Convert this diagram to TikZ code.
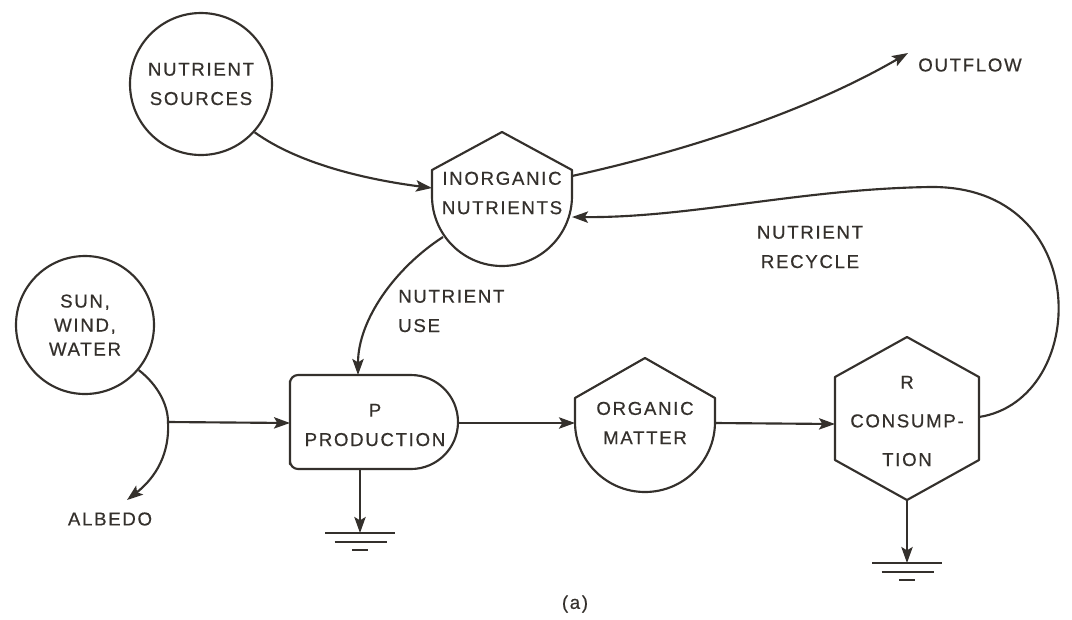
\documentclass[tikz,border=0pt]{standalone}
\usepackage{fontspec}
\setmainfont{Liberation Sans}[LetterSpace=9, FakeBold=0.5]
\usetikzlibrary{arrows.meta}
\definecolor{inkc}{RGB}{52,48,44}

\begin{document}
\begin{tikzpicture}[x=0.75pt,y=-0.75pt,
  outline/.style={draw=inkc, line width=1.6pt, line join=round},
  lbl/.style={text=inkc, font=\fontsize{14}{22}\selectfont, align=center, inner sep=0pt},
  flow/.style={draw=inkc, line width=1.6pt, -{Stealth[length=12pt,width=8.5pt,inset=2.5pt]}},
  pipe/.style={draw=inkc, line width=1.6pt},
  groundbar/.style={draw=inkc, line width=1.3pt}]

\useasboundingbox (0,0) rectangle (1072,619);
\fill[white] (0,0) rectangle (1072,619);

% ---- sources (circles)
\node[lbl, outline, circle, minimum size=106.5pt] (src) at (201,84)
  {NUTRIENT\\SOURCES};
\node[lbl, outline, circle, minimum size=103.5pt, font=\fontsize{14}{18}\selectfont] (sun) at (85,325)
  {SUN,\\WIND,\\WATER};

% ---- inorganic nutrients storage (tank)
\draw[outline] (432,196) -- (432,170) -- (502,132) -- (572,170) -- (572,196)
  arc[start angle=0, end angle=180, radius=70];
\node[lbl] (inorg) at (502,193) {INORGANIC\\NUTRIENTS};
\coordinate (inorg-in)   at (432,188);
\coordinate (inorg-out)  at (572,176);
\coordinate (inorg-ret)  at (572,217);
\coordinate (inorg-use)  at (443,237);

% ---- organic matter storage (tank)
\draw[outline] (575,422) -- (575,398) -- (645,358) -- (715,398) -- (715,422)
  arc[start angle=0, end angle=180, radius=70];
\node[lbl] (org) at (645,423) {ORGANIC\\MATTER};
\coordinate (org-in)  at (575,423);
\coordinate (org-out) at (715,423);

% ---- production block
\draw[outline] (290,469) -- (290,381) [rounded corners=6pt] -- (290,375) [sharp corners] -- (411,375)
  arc[start angle=-90, end angle=90, radius=47] [rounded corners=6pt] -- (290,469) -- cycle;
\node[lbl] (prod) at (375,425) {P\\PRODUCTION};
\coordinate (prod-in)   at (290,423);
\coordinate (prod-top)  at (358,375);
\coordinate (prod-out)  at (458,423);
\coordinate (prod-sink) at (360,469);

% ---- consumption block (hexagon)
\draw[outline] (907,337) -- (979,377) -- (979,460) -- (907,500) -- (835,460) -- (835,377) -- cycle;
\node[lbl, font=\fontsize{14}{29}\selectfont] (cons) at (907,421) {R\\CONSUMP-\\TION};
\coordinate (cons-in)   at (835,424);
\coordinate (cons-out)  at (979,417);
\coordinate (cons-sink) at (907,500);

% ---- heat sinks
\coordinate (sinkP) at (360,533);
\coordinate (sinkR) at (907,563);
\foreach \g in {sinkP,sinkR}{
  \draw[groundbar] ([xshift=-26pt]\g) -- ([xshift=26pt]\g);
  \draw[groundbar] ([xshift=-19pt,yshift=-6.5pt]\g) -- ([xshift=20pt,yshift=-6.5pt]\g);
  \draw[groundbar] ([xshift=-6pt,yshift=-13pt]\g) -- ([xshift=6pt,yshift=-13pt]\g);
}

% ---- free ends
\coordinate (albedo-tip) at (127,500);
\coordinate (out-tip) at (908,53);
\coordinate (split) at (168,422);

% ---- labels
\node[lbl] (albedo) at (110,519) {ALBEDO};
\node[lbl] (outflow) at (970,65) {OUTFLOW};
\node[lbl, anchor=west, align=left] (uselbl) at (398,311) {NUTRIENT\\USE};
\node[lbl] (reclbl) at (810,247) {NUTRIENT\\RECYCLE};
\node[lbl] (caption) at (575,604) {(a)};

% ---- flows
\draw[flow] (src.-42) .. controls (300,165) and (370,180) .. (inorg-in);
\draw[flow] (inorg-out) .. controls (690,150) and (810,110) .. (out-tip);
\draw[flow] (cons-out) .. controls (1090,400) and (1095,185) .. (930,187)
  .. controls (800,189) and (690,218) .. (inorg-ret);
\draw[flow] (inorg-use) .. controls (395,268) and (358,320) .. (prod-top);
\draw[pipe] (sun.-40) .. controls (158,385) and (168,405) .. (split);
\draw[flow] (split) .. controls (170,460) and (150,482) .. (albedo-tip);
\draw[flow] (split) -- (prod-in);
\draw[flow] (prod-out) -- (org-in);
\draw[flow] (org-out) -- (cons-in);
\draw[flow] (prod-sink) -- (sinkP);
\draw[flow] (cons-sink) -- (sinkR);
\end{tikzpicture}
\end{document}
